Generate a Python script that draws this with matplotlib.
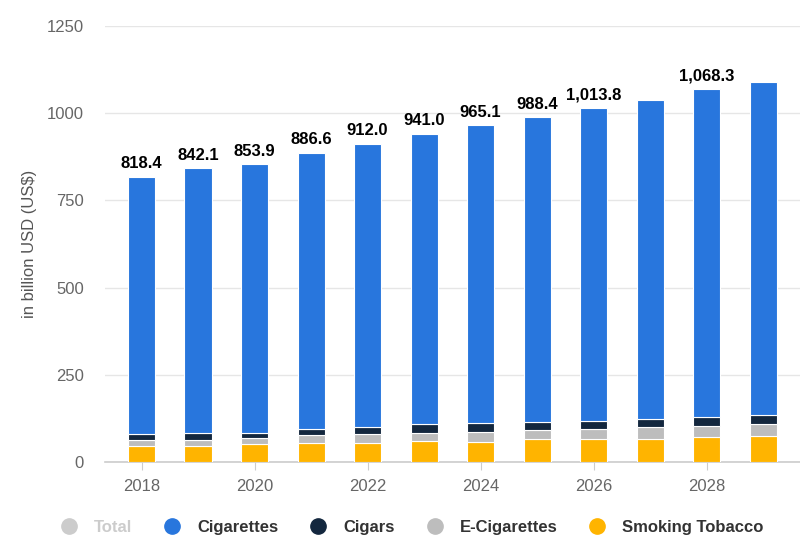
"""Tobacco products revenue by segment, stacked bars 2018-2029."""

import matplotlib.pyplot as plt
from matplotlib.lines import Line2D

plt.rcParams["font.family"] = ["Liberation Sans", "DejaVu Sans"]

YEARS = [2018, 2019, 2020, 2021, 2022, 2023, 2024, 2025, 2026, 2027, 2028, 2029]
TOTAL = [818.4, 842.1, 853.9, 886.6, 912.0, 941.0, 965.1, 988.4, 1013.8, 1038.0, 1068.3, 1090.0]
SMOKING_TOBACCO = [47, 47, 51, 55, 55, 59, 58, 65, 67, 67, 71, 75]
E_CIGARETTES = [16, 17, 17, 21, 24, 24, 29, 27, 28, 32, 32, 33]
CIGARS = [16, 19, 16, 19, 20, 25, 24, 23, 23, 24, 25, 28]
CIGARETTES = [t - s - e - c for t, s, e, c in zip(TOTAL, SMOKING_TOBACCO, E_CIGARETTES, CIGARS)]
# labels are only printed on some bars in the original
LABELED = [2018, 2019, 2020, 2021, 2022, 2023, 2024, 2025, 2026, 2028]

COLORS = {
    "Total": "#cccccc",
    "Cigarettes": "#2876dd",
    "Cigars": "#13273e",
    "E-Cigarettes": "#bdbdbd",
    "Smoking Tobacco": "#ffb400",
}

fig = plt.figure(figsize=(8, 5.49), dpi=100)
ax = fig.add_axes([0.131, 0.1585, 0.869, 0.794])

bottom = [0] * len(YEARS)
for name, vals in [("Smoking Tobacco", SMOKING_TOBACCO), ("E-Cigarettes", E_CIGARETTES),
                   ("Cigars", CIGARS), ("Cigarettes", CIGARETTES)]:
    ax.bar(YEARS, vals, bottom=bottom, width=0.48, color=COLORS[name],
           edgecolor="white", linewidth=0.8, zorder=3)
    bottom = [b + v for b, v in zip(bottom, vals)]

for yr, tot in zip(YEARS, TOTAL):
    if yr in LABELED:
        ax.annotate(f"{tot:,.1f}", (yr, tot), xytext=(0, 4), textcoords="offset points",
                    ha="center", va="bottom", fontsize=12, fontweight="bold", color="black")

ax.set_ylim(0, 1250)
ax.set_xlim(2017.35, 2029.65)
ax.set_yticks([0, 250, 500, 750, 1000, 1250])
ax.set_xticks(range(2018, 2030, 2))
ax.grid(axis="y", color="#e6e6e6", linewidth=1, zorder=0)
for side in ["top", "right", "left"]:
    ax.spines[side].set_visible(False)
ax.spines["bottom"].set_color("#cccccc")
ax.spines["bottom"].set_linewidth(1.2)
ax.tick_params(axis="y", length=0, pad=15, labelsize=12, labelcolor="#666666")
ax.tick_params(axis="x", length=6, color="#cccccc", pad=6, labelsize=12, labelcolor="#666666")
ax.set_ylabel("in billion USD (US$)", fontsize=12, color="#555555", labelpad=7)

handles = [Line2D([], [], marker="o", linestyle="", markersize=11, color=c) for c in COLORS.values()]
leg = fig.legend(handles, list(COLORS.keys()), loc="center", bbox_to_anchor=(0.51, 0.04),
                 ncol=5, frameon=False, fontsize=12, handletextpad=0.5, columnspacing=1.4)
for txt, name in zip(leg.get_texts(), COLORS):
    txt.set_fontweight("bold")
    txt.set_color("#cccccc" if name == "Total" else "#333333")

fig.savefig("out.png", dpi=100)
